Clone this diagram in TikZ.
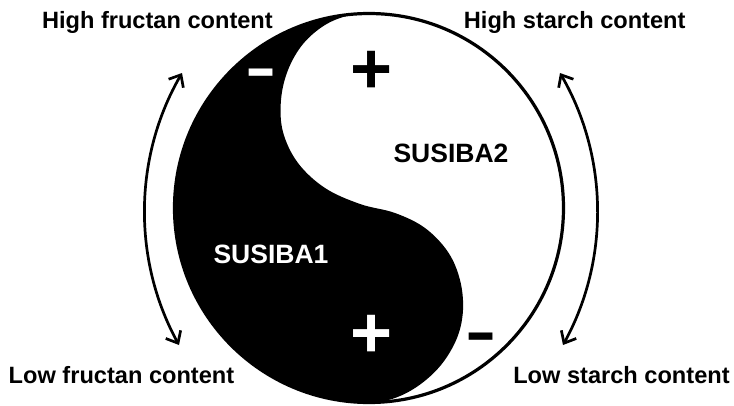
\documentclass[tikz,border=0pt]{standalone}
\usepackage{fontspec}
\setmainfont{Liberation Sans}
\usetikzlibrary{arrows.meta}
\begin{document}
\begin{tikzpicture}[x=1pt,y=-1pt,
  lbl/.style={font=\bfseries\fontsize{23.6}{28}\selectfont, inner sep=0pt, anchor=base},
  gene/.style={font=\bfseries\fontsize{26.5}{32}\selectfont, inner sep=0pt, anchor=base},
  sgn/.style={font=\bfseries\fontsize{72}{80}\selectfont, inner sep=0pt},
  dbl/.style={line width=2.7pt, {Straight Barb[length=10pt,width=17pt]}-{Straight Barb[length=10pt,width=17pt]}}]
\useasboundingbox (0,0) rectangle (734,405);
\coordinate (C) at (369,208);
\begin{scope}
  \clip (C) circle[radius=194.5pt];
  \fill[black] plot[smooth,tension=0.6] coordinates {
    (380,10) (350,15) (325,25) (303,44) (288,70) (281,100) (283,132)
    (298,163) (325,188) (360,204) (395,213) (425,228) (448,252) (460,280)
    (463,310) (457,338) (441,365) (418,386) (392,399) (362,404)}
    -- (150,420) -- (150,-20) -- cycle;
\end{scope}
\draw[line width=3.2pt] (C) circle[radius=194.5pt];

\node[sgn,text=white] (m1) at (261,79) {\scalebox{1.3}[0.85]{-}};
\node[sgn] (p1) at (372,72) {+};
\node[sgn,text=white] (p2) at (372,336) {+};
\node[sgn] (m2) at (481,343) {\scalebox{1.3}[0.85]{-}};

\node[gene] (s2) at (451,162) {SUSIBA2};
\node[gene,text=white] (s1) at (271,263) {SUSIBA1};

\node[lbl] (hf) at (157.4,28.3) {High fructan content};
\node[lbl] (hs) at (574.7,28.3) {High starch content};
\node[lbl] (lf) at (121.5,383) {Low fructan content};
\node[lbl] (ls) at (621.5,383) {Low starch content};

\coordinate (la1) at (182,73);
\coordinate (la2) at (179,345);
\coordinate (ra1) at (560,73);
\coordinate (ra2) at (563,345);
\draw[dbl] (la1) .. controls (133.5,157) and (132.4,260) .. (la2);
\draw[dbl] (ra1) .. controls (608.5,157) and (609.6,260) .. (ra2);
\end{tikzpicture}
\end{document}
